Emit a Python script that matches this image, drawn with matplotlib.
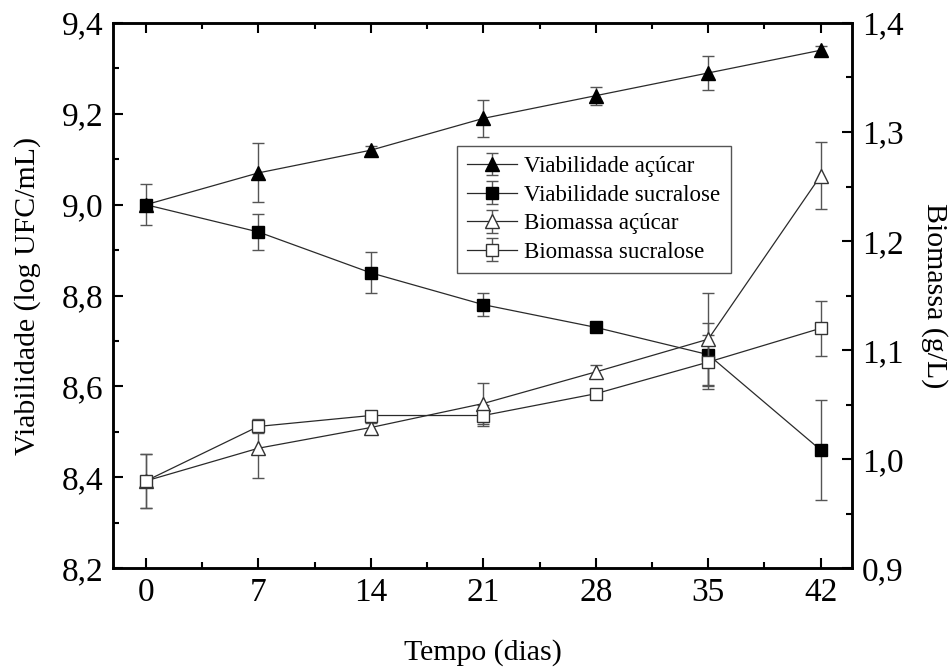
import matplotlib
matplotlib.use("Agg")
import matplotlib.pyplot as plt
from matplotlib.ticker import MultipleLocator, FuncFormatter

#===============================================================================#
# data                                                                          #
#===============================================================================#

dias = [0, 7, 14, 21, 28, 35, 42]

# viabilidade (log UFC/mL), eixo esquerdo
viab_acucar     = [9.00, 9.07, 9.12, 9.19, 9.24, 9.29, 9.34]
viab_acucar_err = [0.00, 0.065, 0.01, 0.04, 0.02, 0.037, 0.01]
viab_sucra      = [9.00, 8.94, 8.85, 8.78, 8.73, 8.67, 8.46]
viab_sucra_err  = [0.045, 0.04, 0.045, 0.025, 0.008, 0.07, 0.11]

# biomassa (g/L), eixo direito
bio_acucar      = [0.98, 1.01, 1.029, 1.051, 1.080, 1.110, 1.260]
bio_acucar_err  = [0.025, 0.027, 0.004, 0.019, 0.006, 0.042, 0.031]
bio_sucra       = [0.98, 1.030, 1.040, 1.040, 1.060, 1.089, 1.120]
bio_sucra_err   = [0.025, 0.006, 0.004, 0.010, 0.004, 0.025, 0.025]

#===============================================================================#
# plot                                                                          #
#===============================================================================#

plt.rcParams['font.family'] = ['Liberation Serif', 'DejaVu Serif']

fs_tick = 24
fs_lab = 21.5
line_c = '#2a2a2a'
err_c = '#555555'

fig = plt.figure(figsize=(9.52, 6.7), dpi=100)
ax = fig.add_axes([0.1187, 0.152, 0.7763, 0.8137])
ax2 = ax.twinx()

comma = FuncFormatter(lambda v, p: f"{v:.1f}".replace('.', ','))
inteiro = FuncFormatter(lambda v, p: f"{v:.0f}")

kw = dict(color=line_c, lw=0.9, ecolor=err_c, elinewidth=1.0, capsize=4.5, capthick=1.0)

h1 = ax.errorbar(dias, viab_acucar, yerr=viab_acucar_err, marker='^', ms=10.5,
                 mfc='black', mec='black', label='Viabilidade açúcar', **kw)
h2 = ax.errorbar(dias, viab_sucra, yerr=viab_sucra_err, marker='s', ms=8.5,
                 mfc='black', mec='black', label='Viabilidade sucralose', **kw)
h3 = ax2.errorbar(dias, bio_acucar, yerr=bio_acucar_err, marker='^', ms=10.5,
                  mfc='white', mec='#333333', mew=1.0, label='Biomassa açúcar', **kw)
h4 = ax2.errorbar(dias, bio_sucra, yerr=bio_sucra_err, marker='s', ms=8.5,
                  mfc='white', mec='#333333', mew=1.0, label='Biomassa sucralose', **kw)

ax.set_xlim(-2.05, 43.95)
ax.set_ylim(8.2, 9.4)
ax2.set_ylim(0.9, 1.4)

ax.xaxis.set_major_locator(MultipleLocator(7))
ax.xaxis.set_minor_locator(MultipleLocator(3.5))
ax.xaxis.set_major_formatter(inteiro)
ax.yaxis.set_major_locator(MultipleLocator(0.2))
ax.yaxis.set_minor_locator(MultipleLocator(0.1))
ax.yaxis.set_major_formatter(comma)
ax2.yaxis.set_major_locator(MultipleLocator(0.1))
ax2.yaxis.set_minor_locator(MultipleLocator(0.05))
ax2.yaxis.set_major_formatter(comma)

for a in (ax, ax2):
    for s in a.spines.values():
        s.set_linewidth(1.8)
    a.tick_params(which='major', direction='in', length=7, width=1.5, labelsize=fs_tick, pad=7)
    a.tick_params(which='minor', direction='in', length=4, width=1.5)
ax.tick_params(which='both', top=True, right=False)
ax2.tick_params(which='both', right=True, left=False)

ax.set_xlabel('Tempo (dias)', fontsize=fs_lab, labelpad=22)
ax.set_ylabel('Viabilidade (log UFC/mL)', fontsize=fs_lab, labelpad=15)
ax2.set_ylabel('Biomassa (g/L)', fontsize=fs_lab, rotation=270, labelpad=32)

leg = ax2.legend(handles=[h1, h2, h3, h4], loc='upper left', bbox_to_anchor=(0.465, 0.775),
                 fontsize=16.5, frameon=True, fancybox=False, framealpha=1,
                 edgecolor='#555555', handlelength=2.2, handletextpad=0.3,
                 labelspacing=0.33, borderpad=0.45, borderaxespad=0)
leg.get_frame().set_linewidth(1.0)

fig.savefig('out.png', dpi=100)
plt.close(fig)
